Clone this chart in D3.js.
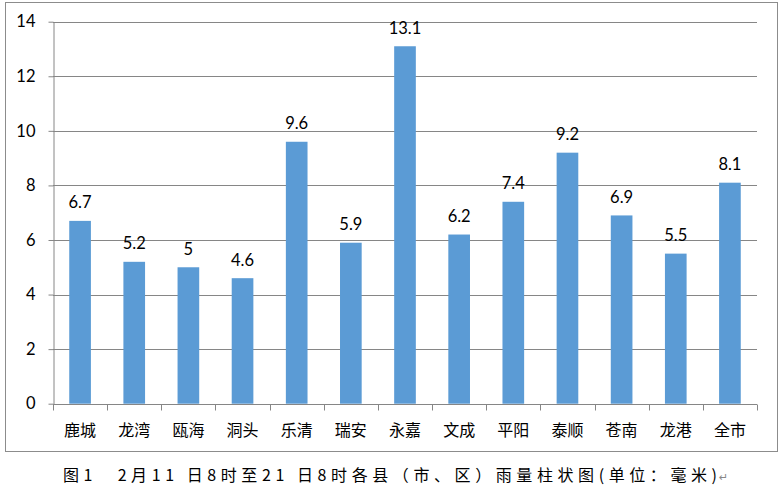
<!DOCTYPE html>
<html><head><meta charset="utf-8">
<script src="https://cdn.jsdelivr.net/npm/d3@7"></script>
<style>body{margin:0;background:#fff}svg{display:block}</style>
</head><body>
<svg id="c" width="782" height="487"></svg>
<script>
const categories = ["鹿城","龙湾","瓯海","洞头","乐清","瑞安","永嘉","文成","平阳","泰顺","苍南","龙港","全市"];
const rainfall = [6.7,5.2,5,4.6,9.6,5.9,13.1,6.2,7.4,9.2,6.9,5.5,8.1];
const yTicks = [0,2,4,6,8,10,12,14];
const caption = "图1　2月11 日8时至21 日8时各县（市、区）雨量柱状图(单位：毫米)";

const svg = d3.select("#c");
const pLeft = 53, pRight = 757, pTop = 21.7, pBottom = 403.7;
const x = d3.scaleBand().domain(categories).range([pLeft, pRight]).paddingInner(0.6).paddingOuter(0.3);
const y = d3.scaleLinear().domain([0, 14]).range([pBottom, pTop]);

// border
svg.append("rect").attr("x",5.5).attr("y",2.5).attr("width",772).attr("height",449)
  .attr("fill","none").attr("stroke","#8c8c8c").attr("stroke-width",1);

// grid
svg.append("g").selectAll("line").data(yTicks.filter(d=>d>0)).join("line")
  .attr("x1",pLeft).attr("x2",pRight)
  .attr("y1",d=>Math.round(y(d))+0.5).attr("y2",d=>Math.round(y(d))+0.5)
  .attr("stroke","#868686").attr("stroke-width",1);

// y axis
const ya = svg.append("g").attr("transform",`translate(${pLeft+0.5},0)`)
  .call(d3.axisLeft(y).tickValues(yTicks).tickSize(5).tickPadding(13).tickSizeOuter(0));
ya.select(".domain").attr("stroke","#868686");
ya.selectAll(".tick line").attr("stroke","#868686");
ya.selectAll(".tick text").attr("font-family","Lato, 'Open Sans', sans-serif").attr("font-size",16.5).attr("fill","#000");

// bars
svg.append("g").selectAll("rect").data(rainfall).join("rect")
  .attr("x",(d,i)=>x(categories[i])).attr("width",x.bandwidth())
  .attr("y",d=>y(d)).attr("height",d=>y(0)-y(d)).attr("fill","#5B9BD5");

// x axis
const xTickScale = d3.scaleLinear().domain([0,categories.length]).range([pLeft,pRight]);
const xa = svg.append("g").attr("transform",`translate(0,${Math.round(pBottom)+0.5})`);
xa.append("line").attr("x1",pLeft).attr("x2",pRight).attr("stroke","#868686");
xa.selectAll("line.t").data(d3.range(categories.length+1)).join("line").attr("class","t")
  .attr("x1",d=>Math.round(xTickScale(d))+0.5).attr("x2",d=>Math.round(xTickScale(d))+0.5)
  .attr("y1",0).attr("y2",6).attr("stroke","#868686");
xa.selectAll("text").data(categories).join("text")
  .attr("x",d=>x(d)+x.bandwidth()/2).attr("y",31).attr("text-anchor","middle")
  .attr("font-family","'Noto Sans CJK SC', sans-serif").attr("font-size",16).attr("fill","#000").text(d=>d);

// data labels
svg.append("g").selectAll("text").data(rainfall).join("text")
  .attr("x",(d,i)=>x(categories[i])+x.bandwidth()/2).attr("y",d=>y(d)-12.5)
  .attr("text-anchor","middle").attr("font-family","Lato, 'Open Sans', sans-serif")
  .attr("font-size",16.5).attr("fill","#000").text(d=>d);

// caption
svg.append("text").attr("x",63).attr("y",481).attr("font-family","'Noto Sans CJK SC', sans-serif")
  .attr("font-size",16).attr("fill","#000").attr("textLength",654).attr("lengthAdjust","spacing").text(caption);
svg.append("text").attr("x",719).attr("y",481).attr("font-family","'DejaVu Sans', sans-serif")
  .attr("font-size",11).attr("fill","#888").text("↵");
</script>
</body></html>
